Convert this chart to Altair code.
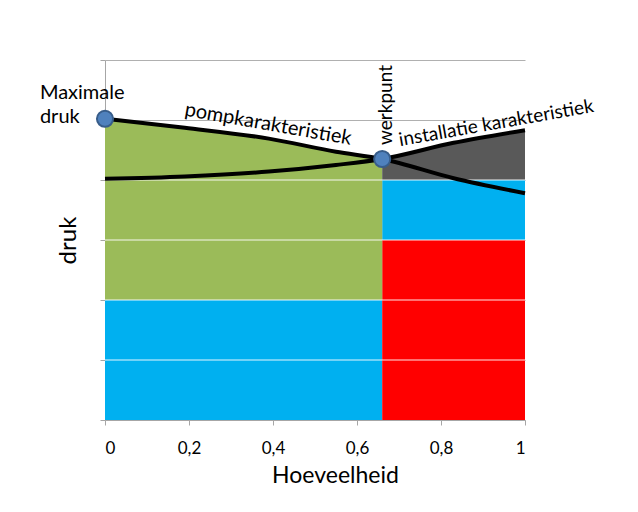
import altair as alt
import pandas as pd

# --- data ---
flow = [0.0, 0.19, 0.39, 0.55, 0.66, 0.83, 1.0]
pump = [5.02, 4.87, 4.69, 4.47, 4.35, 4.03, 3.78]
installation = [4.02, 4.06, 4.14, 4.25, 4.35, 4.62, 4.83]

werkpunt_x = 0.66
werkpunt_y = 4.35
max_x = 0.0
max_y = 5.02

region_names = ["blauw links", "rood rechts", "blauw rechts"]
region_x0 = [0.0, 0.66, 0.66]
region_x1 = [0.66, 1.0, 1.0]
region_y0 = [0.0, 0.0, 3.0]
region_y1 = [2.0, 3.0, 4.0]
region_colors = ["#00B0F0", "#FF0000", "#00B0F0"]

green_base = 2.0
grey_base = 4.0
white_grid = [1, 2, 3, 4]

labels = ["Maximale\ndruk", "pompkarakteristiek", "installatie karakteristiek", "werkpunt"]
label_x = [-0.155, 0.386, 0.934, 0.669]
label_y = [5.35, 4.83, 4.85, 5.25]

FONT = "Lato"

curves = pd.DataFrame({"x": flow, "pump": pump, "inst": installation})
regions = pd.DataFrame({"name": region_names, "x0": region_x0, "x1": region_x1,
                        "y0": region_y0, "y1": region_y1, "c": region_colors})
points = pd.DataFrame({"x": [max_x, werkpunt_x], "y": [max_y, werkpunt_y]})
grid = pd.DataFrame({"y": white_grid})

xs = alt.Scale(domain=[0, 1], nice=False, zero=False)
ys = alt.Scale(domain=[0, 6], nice=False, zero=False)

x_axis = alt.Axis(values=[0, 0.2, 0.4, 0.6, 0.8, 1.0],
                  labelExpr="replace(format(datum.value, '.1~f'), '.', ',')",
                  grid=False, tickSize=5, tickColor="#A6A6A6", domainColor="#A6A6A6",
                  labelFont=FONT, labelFontSize=17, labelColor="#000000",
                  labelBaseline="alphabetic", labelPadding=28,
                  title="Hoeveelheid", titleFont=FONT, titleFontSize=23,
                  titleFontWeight="normal", titleColor="#000000",
                  titleX=230, titleY=62, titleBaseline="alphabetic")
y_axis = alt.Axis(values=[0, 1, 2, 3, 4, 5, 6], labels=False, grid=True,
                  gridColor="#B0B0B0", gridWidth=1,
                  tickSize=5, tickColor="#A6A6A6", domainColor="#A6A6A6",
                  title="druk", titleFont=FONT, titleFontSize=24,
                  titleFontWeight="normal", titleColor="#000000",
                  titleAngle=270, titleX=-30, titleY=180,
                  titleBaseline="alphabetic", titleAlign="center")

rects = alt.Chart(regions).mark_rect(strokeWidth=0).encode(
    x=alt.X("x0:Q", scale=xs, axis=x_axis),
    x2="x1:Q",
    y=alt.Y("y0:Q", scale=ys, axis=y_axis),
    y2="y1:Q",
    color=alt.Color("c:N", scale=None),
)

green = alt.Chart(curves).transform_filter(alt.datum.x <= werkpunt_x + 1e-9).mark_area(
    color="#9BBB59", interpolate="monotone").encode(
    x=alt.X("x:Q", scale=xs),
    y=alt.Y("pump:Q", scale=ys),
    y2=alt.datum(green_base),
)

grey = alt.Chart(curves).transform_filter(alt.datum.x >= werkpunt_x - 1e-9).mark_area(
    color="#595959", interpolate="monotone").encode(
    x=alt.X("x:Q", scale=xs),
    y=alt.Y("inst:Q", scale=ys),
    y2=alt.datum(grey_base),
)

white_rules = alt.Chart(grid).mark_rule(color="#FFFFFF", strokeWidth=1.2, opacity=0.9).encode(
    y=alt.Y("y:Q", scale=ys),
    x=alt.value(0), x2=alt.value(420),
)

pump_line = alt.Chart(curves).mark_line(color="black", strokeWidth=4, interpolate="monotone").encode(
    x=alt.X("x:Q", scale=xs), y=alt.Y("pump:Q", scale=ys))
inst_line = alt.Chart(curves).mark_line(color="black", strokeWidth=4, interpolate="monotone").encode(
    x=alt.X("x:Q", scale=xs), y=alt.Y("inst:Q", scale=ys))

dots = alt.Chart(points).mark_point(filled=True, shape="circle", size=260, fill="#4F81BD",
                                    stroke="#385D8A", strokeWidth=2, opacity=1).encode(
    x=alt.X("x:Q", scale=xs), y=alt.Y("y:Q", scale=ys))

text_style = dict(font=FONT, color="#000000")
t_max = alt.Chart(pd.DataFrame({"t": [labels[0]], "x": [label_x[0]], "y": [label_y[0]]})).mark_text(
    align="left", baseline="alphabetic", lineBreak="\n", lineHeight=24, fontSize=20, **text_style).encode(
    x=alt.X("x:Q", scale=xs), y=alt.Y("y:Q", scale=ys), text="t:N")
t_pump = alt.Chart(pd.DataFrame({"t": [labels[1]], "x": [label_x[1]], "y": [label_y[1]]})).mark_text(
    align="center", baseline="alphabetic", angle=10, fontSize=20, **text_style).encode(
    x=alt.X("x:Q", scale=xs), y=alt.Y("y:Q", scale=ys), text="t:N")
t_inst = alt.Chart(pd.DataFrame({"t": [labels[2]], "x": [label_x[2]], "y": [label_y[2]]})).mark_text(
    align="center", baseline="alphabetic", angle=350, fontSize=19, **text_style).encode(
    x=alt.X("x:Q", scale=xs), y=alt.Y("y:Q", scale=ys), text="t:N")
t_werk = alt.Chart(pd.DataFrame({"t": [labels[3]], "x": [label_x[3]], "y": [label_y[3]]})).mark_text(
    align="center", baseline="middle", angle=270, fontSize=19, **text_style).encode(
    x=alt.X("x:Q", scale=xs), y=alt.Y("y:Q", scale=ys), text="t:N")

chart = alt.layer(rects, green, grey, white_rules, pump_line, inst_line, dots,
                  t_max, t_pump, t_inst, t_werk).properties(
    width=420, height=360,
    autosize=alt.AutoSizeParams(type="none"),
    padding={"left": 105, "top": 60, "right": 113, "bottom": 92},
    background="white",
).configure_view(strokeWidth=0)

chart.save("out.html", embed_options={"renderer": "svg", "actions": False})
